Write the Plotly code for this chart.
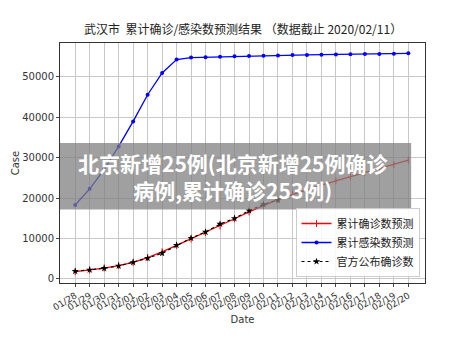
import plotly.graph_objects as go

dates = ["01/28", "01/29", "01/30", "01/31", "02/01", "02/02", "02/03", "02/04",
         "02/05", "02/06", "02/07", "02/08", "02/09", "02/10", "02/11", "02/12",
         "02/13", "02/14", "02/15", "02/16", "02/17", "02/18", "02/19", "02/20"]

pred_confirmed = [1800, 2200, 2700, 3300, 4100, 5300, 6700, 8300, 9900, 11500,
                  13100, 14900, 16600, 18200, 19700, 20900, 22100, 23200, 24300,
                  25300, 26300, 27300, 28300, 29400]

pred_infected = [18300, 22300, 27100, 32800, 39000, 45600, 51000, 54300, 54800,
                 54900, 55000, 55100, 55200, 55250, 55300, 55400, 55450, 55500,
                 55550, 55600, 55650, 55700, 55750, 55850]

official_dates = dates[:15]
official = [1905, 2261, 2639, 3215, 4109, 5142, 6384, 8351, 10117, 11618,
            13603, 14982, 16902, 18454, 19558]

title = "武汉市  累计确诊/感染数预测结果 （数据截止 2020/02/11）"
watermark = "北京新增25例(北京新增25例确诊<br>病例,累计确诊253例)"

xi = list(range(len(dates)))
xo = list(range(len(official_dates)))

font = "DejaVu Sans, Noto Sans CJK SC, sans-serif"
cjk = "Noto Sans CJK SC, sans-serif"

fig = go.Figure()
fig.add_trace(go.Scatter(x=xi, y=pred_confirmed, mode="lines+markers", name="累计确诊数预测",
                         line=dict(color="red", width=1.3),
                         marker=dict(symbol="line-ns", size=5, line=dict(color="red", width=1))))
fig.add_trace(go.Scatter(x=xi, y=pred_infected, mode="lines+markers", name="累计感染数预测",
                         line=dict(color="blue", width=1.3),
                         marker=dict(symbol="circle", size=4, color="blue")))
fig.add_trace(go.Scatter(x=xo, y=official, mode="lines+markers", name="官方公布确诊数",
                         line=dict(color="black", width=1.2, dash="dot"),
                         marker=dict(symbol="star", size=5.5, color="black")))

fig.add_shape(type="rect", xref="paper", yref="paper", x0=0, x1=0.962, y0=0.306, y1=0.583,
              fillcolor="rgba(128,128,128,0.75)", line=dict(width=0), layer="above")
fig.add_annotation(text=watermark, xref="paper", yref="paper", x=0.475, y=0.445,
                   showarrow=False, align="center",
                   font=dict(family=cjk, size=21, color="white", weight="bold"))

fig.update_layout(
    width=472, height=354,
    margin=dict(l=60, r=47, t=43, b=71),
    paper_bgcolor="white", plot_bgcolor="white",
    title=dict(text=title, x=0.515, xanchor="center", y=0.905, yanchor="bottom",
               font=dict(family=cjk, size=12, color="#222")),
    font=dict(family=font, size=9, color="#333"),
    showlegend=True,
    legend=dict(x=0.985, y=0.025, xanchor="right", yanchor="bottom",
                bgcolor="rgba(255,255,255,0.85)", bordercolor="#ccc", borderwidth=1,
                font=dict(family=cjk, size=11, color="#222"), tracegroupgap=0,
                itemwidth=30),
)
fig.update_xaxes(range=[-1.05, 24.15], tickmode="array", tickvals=xi, ticktext=dates,
                 tickangle=-32, showgrid=True, gridcolor="#c8c8c8", gridwidth=1,
                 showline=True, linecolor="#333", mirror=True, ticks="outside",
                 ticklen=3, zeroline=False,
                 title=dict(text="Date", font=dict(size=10, color="#333"), standoff=4),
                 tickfont=dict(size=9, color="#333"))
fig.update_yaxes(range=[-1000, 58400], tickvals=[0, 10000, 20000, 30000, 40000, 50000],
                 tickformat="d",
                 showgrid=True, gridcolor="#c8c8c8", gridwidth=1,
                 showline=True, linecolor="#333", mirror=True, ticks="outside",
                 ticklen=3, zeroline=False,
                 title=dict(text="Case", font=dict(size=10, color="#333"), standoff=0),
                 tickfont=dict(size=10, color="#333"))

fig.write_html("out.html")
